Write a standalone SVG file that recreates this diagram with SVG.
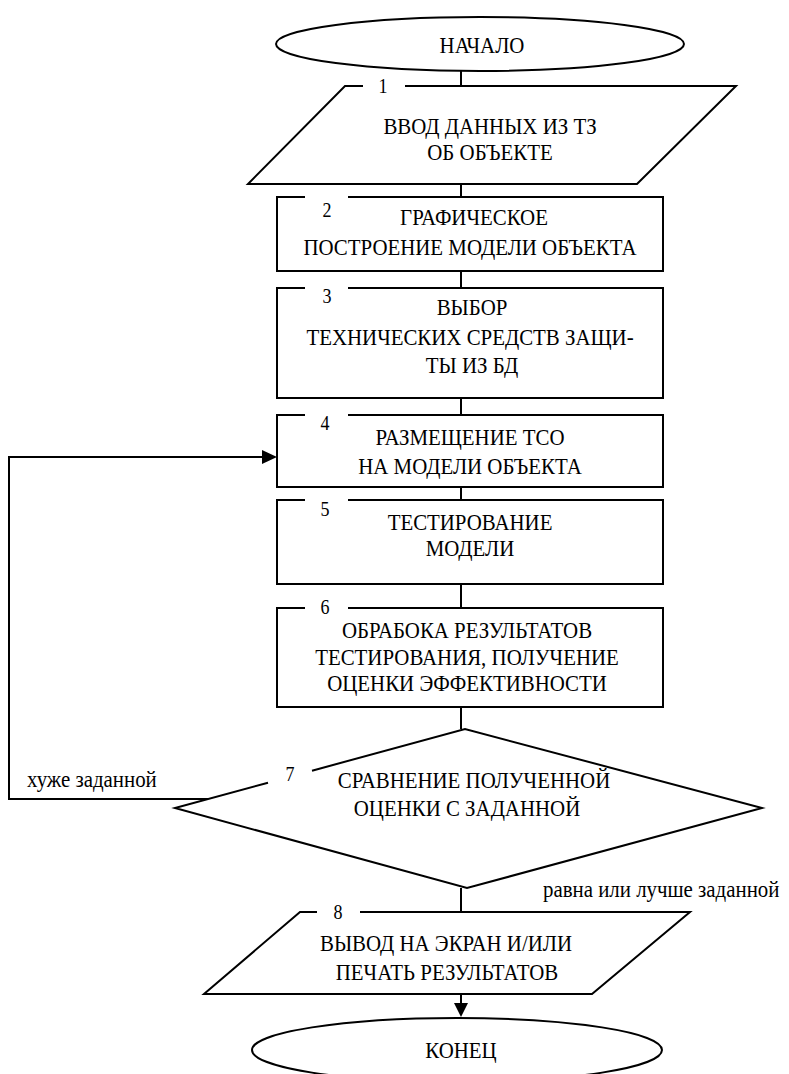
<svg xmlns="http://www.w3.org/2000/svg" width="789" height="1074" viewBox="0 0 789 1074">
<defs>
<style>
.s{fill:none;stroke:#000;stroke-width:2}
.t{font-family:"Liberation Serif","Times New Roman",serif;font-size:24px;fill:#000;stroke:none;text-anchor:middle}
.n{font-family:"Liberation Serif","Times New Roman",serif;font-size:20px;fill:#000;stroke:none;text-anchor:middle}
.l{font-family:"Liberation Serif","Times New Roman",serif;font-size:24px;fill:#000;stroke:none;text-anchor:start}
</style>
</defs>
<rect width="789" height="1074" fill="#fff"/>
<g id="connectors">
<g class="s">
<line x1="461" y1="71" x2="461" y2="86"/>
<line x1="461" y1="184" x2="461" y2="197"/>
<line x1="461" y1="271" x2="461" y2="288"/>
<line x1="461" y1="398" x2="461" y2="415"/>
<line x1="461" y1="487" x2="461" y2="500"/>
<line x1="461" y1="584" x2="461" y2="608"/>
<line x1="461" y1="707" x2="461" y2="729"/>
<line x1="461" y1="888" x2="461" y2="912"/>
<line x1="461" y1="994" x2="461" y2="1003"/>
<polyline points="208,799 9,799 9,457 263,457"/>
</g>
<path d="M454,1003 L468,1003 L461,1017 Z" fill="#000"/>
<path d="M262,450 L277,457 L262,464 Z" fill="#000"/>
<text class="l" transform="translate(27,787) scale(0.87,1)">хуже заданной</text>
<text class="l" transform="translate(543,897) scale(0.87,1)">равна или лучше заданной</text>
</g>
<g id="start">
<ellipse class="s" cx="480" cy="44" rx="204" ry="27"/>
<text class="t" transform="translate(482,53) scale(0.87,1)">НАЧАЛО</text>
</g>
<g id="n1">
<polyline class="s" points="363,86 345,86 248,184 637,184 736,86 405,86"/>
<text class="n" transform="translate(383,93) scale(0.9,1)">1</text>
<text class="t" transform="translate(490,134) scale(0.87,1)">ВВОД ДАННЫХ ИЗ ТЗ</text>
<text class="t" transform="translate(490,160) scale(0.87,1)">ОБ ОБЪЕКТЕ</text>
</g>
<g id="n2">
<polyline class="s" points="305,197 277,197 277,271 663,271 663,197 348,197"/>
<text class="n" transform="translate(327,217) scale(0.9,1)">2</text>
<text class="t" transform="translate(474,225) scale(0.87,1)">ГРАФИЧЕСКОЕ</text>
<text class="t" transform="translate(470,255) scale(0.87,1)">ПОСТРОЕНИЕ МОДЕЛИ ОБЪЕКТА</text>
</g>
<g id="n3">
<polyline class="s" points="305,288 277,288 277,398 663,398 663,288 348,288"/>
<text class="n" transform="translate(327,303) scale(0.9,1)">3</text>
<text class="t" transform="translate(472,315) scale(0.87,1)">ВЫБОР</text>
<text class="t" transform="translate(470,345) scale(0.87,1)">ТЕХНИЧЕСКИХ СРЕДСТВ ЗАЩИ-</text>
<text class="t" transform="translate(472,373) scale(0.87,1)">ТЫ ИЗ БД</text>
</g>
<g id="n4">
<polyline class="s" points="305,415 277,415 277,487 663,487 663,415 348,415"/>
<text class="n" transform="translate(325,430) scale(0.9,1)">4</text>
<text class="t" transform="translate(470,445) scale(0.87,1)">РАЗМЕЩЕНИЕ ТСО</text>
<text class="t" transform="translate(470,474) scale(0.87,1)">НА МОДЕЛИ ОБЪЕКТА</text>
</g>
<g id="n5">
<polyline class="s" points="305,500 277,500 277,584 663,584 663,500 348,500"/>
<text class="n" transform="translate(325,516) scale(0.9,1)">5</text>
<text class="t" transform="translate(470,530) scale(0.87,1)">ТЕСТИРОВАНИЕ</text>
<text class="t" transform="translate(470,556) scale(0.87,1)">МОДЕЛИ</text>
</g>
<g id="n6">
<polyline class="s" points="305,608 277,608 277,707 663,707 663,608 348,608"/>
<text class="n" transform="translate(325,614) scale(0.9,1)">6</text>
<text class="t" transform="translate(467,638) scale(0.87,1)">ОБРАБОКА РЕЗУЛЬТАТОВ</text>
<text class="t" transform="translate(467,665) scale(0.87,1)">ТЕСТИРОВАНИЯ, ПОЛУЧЕНИЕ</text>
<text class="t" transform="translate(467,691) scale(0.87,1)">ОЦЕНКИ ЭФФЕКТИВНОСТИ</text>
</g>
<g id="n7">
<polyline class="s" points="312,770.7 465,729 762,808 467,888 175,808 268,782.7"/>
<text class="n" transform="translate(290,781) scale(0.9,1)">7</text>
<text class="t" transform="translate(474,788) scale(0.87,1)">СРАВНЕНИЕ ПОЛУЧЕННОЙ</text>
<text class="t" transform="translate(467,816) scale(0.87,1)">ОЦЕНКИ С ЗАДАННОЙ</text>
</g>
<g id="n8">
<polyline class="s" points="317,912 300,912 204,994 592,994 690,912 360,912"/>
<text class="n" transform="translate(338,919) scale(0.9,1)">8</text>
<text class="t" transform="translate(446,951) scale(0.87,1)">ВЫВОД НА ЭКРАН И/ИЛИ</text>
<text class="t" transform="translate(447,980) scale(0.87,1)">ПЕЧАТЬ РЕЗУЛЬТАТОВ</text>
</g>
<g id="end">
<ellipse class="s" cx="457" cy="1050" rx="205" ry="32"/>
<text class="t" transform="translate(461,1058) scale(0.87,1)">КОНЕЦ</text>
</g>
</svg>
